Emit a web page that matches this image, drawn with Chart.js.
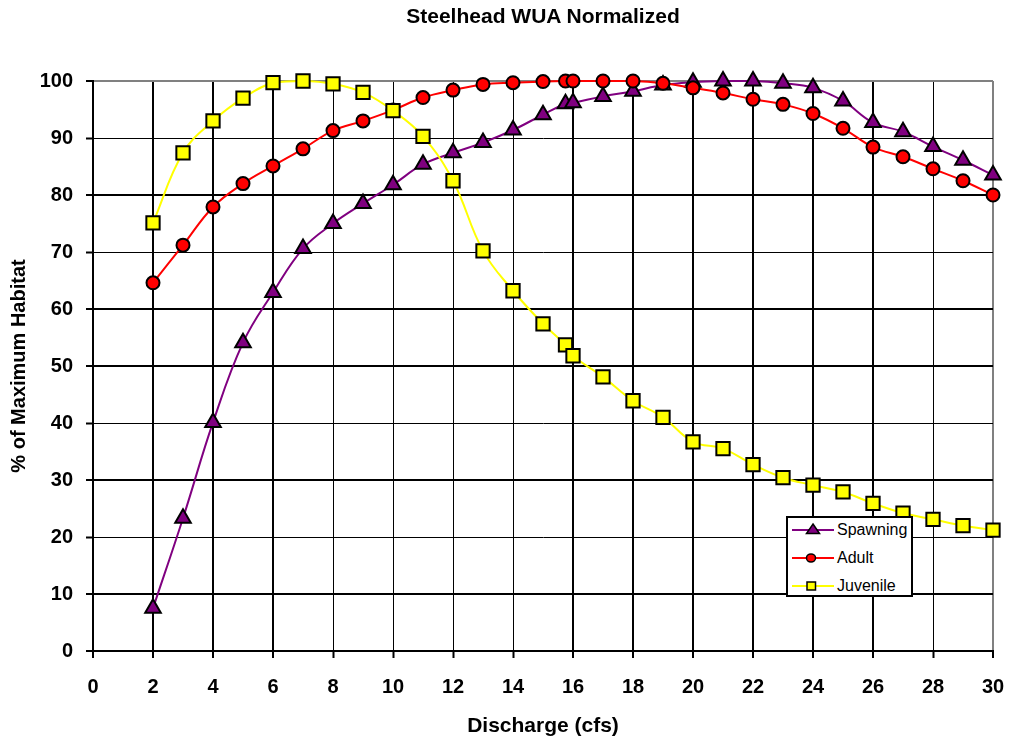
<!DOCTYPE html>
<html>
<head>
<meta charset="utf-8">
<title>Steelhead WUA Normalized</title>
<script src="https://cdn.jsdelivr.net/npm/chart.js@4.4.1/dist/chart.umd.min.js"></script>
<style>
  html, body { margin: 0; padding: 0; background: #fff; }
  #wrap { position: relative; width: 1010px; height: 742px; font-family: 'Liberation Sans', Arial, sans-serif; }
  #chart { position: absolute; left: 0; top: 0; }
  #title { position: absolute; left: 93px; width: 900px; top: 5px; line-height: 21px; text-align: center;
           font-weight: bold; font-size: 21px; color: #000; }
  #legend { position: absolute; left: 786px; top: 516px; width: 127px; height: 81px; box-sizing: border-box;
            border: 2px solid #000; background: #fff; }
  #legend .item { position: absolute; left: 0; height: 20px; width: 124px; }
  #legend svg { position: absolute; left: 0; top: 0; }
  #legend span { position: absolute; left: 49px; top: 0; line-height: 20px; font-size: 16px; color: #000; }
</style>
</head>
<body>
<div id="wrap">
  <canvas id="chart" width="1010" height="742"></canvas>
  <div id="title">Steelhead WUA Normalized</div>
  <div id="legend">
    <div class="item" style="top:2px">
      <svg width="48" height="20"><line x1="4" y1="10" x2="46" y2="10" stroke="#800080" stroke-width="2"/>
        <polygon points="25,4 31.5,13.5 18.5,13.5" fill="#800080" stroke="#000" stroke-width="1.5"/></svg>
      <span>Spawning</span>
    </div>
    <div class="item" style="top:30px">
      <svg width="48" height="20"><line x1="4" y1="10" x2="46" y2="10" stroke="#ff0000" stroke-width="2"/>
        <ellipse cx="23" cy="10" rx="4.5" ry="4" fill="#ff0000" stroke="#000" stroke-width="1.5"/></svg>
      <span>Adult</span>
    </div>
    <div class="item" style="top:58px">
      <svg width="48" height="20"><line x1="4" y1="10" x2="46" y2="10" stroke="#ffff00" stroke-width="2"/>
        <rect x="19" y="6" width="8.5" height="8" fill="#ffff00" stroke="#000" stroke-width="1.5"/></svg>
      <span>Juvenile</span>
    </div>
  </div>
</div>
<script>
// Discharge (cfs) at which habitat was evaluated
const discharge = [2, 3, 4, 5, 6, 7, 8, 9, 10, 11, 12, 13, 14, 15, 15.75,
                   16, 17, 18, 19, 20, 21, 22, 23, 24, 25, 26, 27, 28, 29, 30];

// Normalized weighted usable area, % of maximum habitat
const spawning = [7.5, 23.3, 40.1, 54.1, 62.9, 70.6, 75.0, 78.5, 81.8, 85.4, 87.4, 89.2, 91.4, 94.1, 96.0,
                  96.2, 97.3, 98.2, 99.3, 99.8, 100, 100, 99.6, 98.8, 96.5, 92.7, 91.1, 88.5, 86.1, 83.5];
const adult = [64.6, 71.2, 77.9, 82.0, 85.1, 88.1, 91.3, 93.0, 94.9, 97.1, 98.4, 99.4, 99.7, 99.9, 100,
               100, 100, 100, 99.6, 98.8, 97.9, 96.8, 95.9, 94.3, 91.7, 88.4, 86.7, 84.6, 82.5, 80.0];
const juvenile = [75.1, 87.4, 93.0, 97.0, 99.7, 100, 99.5, 98.0, 94.8, 90.3, 82.5, 70.2, 63.2, 57.4, 53.7,
                  51.8, 48.1, 43.9, 41.0, 36.7, 35.5, 32.7, 30.4, 29.1, 27.9, 25.9, 24.2, 23.1, 22.0, 21.2];

// Axis ranges and tick spacing
const xMin = 0, xMax = 30, xStep = 2;
const yMin = 0, yMax = 100, yStep = 10;

const FONT = "'Liberation Sans', Arial, sans-serif";
const pts = ys => discharge.map((x, i) => ({ x: x, y: ys[i] }));

// grid lines that render one pixel wide; the rest are two
const thinX = [8, 10, 12, 14, 28];
const thinY = [20, 40, 70, 90];

function series(label, values, color, style, radius, order) {
  return {
    label: label,
    data: pts(values),
    borderColor: color,
    backgroundColor: color,
    borderWidth: 2,
    tension: 0.4,
    pointStyle: style,
    pointRadius: radius,
    pointBackgroundColor: color,
    pointBorderColor: '#000',
    pointBorderWidth: 2,
    clip: false,
    order: order
  };
}

new Chart(document.getElementById('chart'), {
  type: 'line',
  data: {
    datasets: [
      series('Spawning', spawning, '#800080', 'triangle', 9, 3),
      series('Adult', adult, '#ff0000', 'circle', 6.5, 2),
      series('Juvenile', juvenile, '#ffff00', 'rect', 9.4, 1)
    ]
  },
  options: {
    responsive: false,
    animation: false,
    devicePixelRatio: 1,
    layout: { padding: { top: 81, right: 17, left: 0, bottom: 0 } },
    plugins: { legend: { display: false }, tooltip: { enabled: false }, title: { display: false } },
    scales: {
      x: {
        type: 'linear',
        position: 'bottom',
        min: xMin, max: xMax,
        afterFit: s => { s.height = 91; s.paddingLeft = 0; s.paddingRight = 0; },
        ticks: { stepSize: xStep, color: '#000', padding: 17, maxRotation: 0,
                 font: { family: FONT, size: 20, weight: 'bold' } },
        grid: {
          color: c => (c.tick && c.tick.value === xMax) ? '#808080' : '#000',
          lineWidth: c => (c.tick && thinX.includes(c.tick.value)) ? 1 : 2,
          tickColor: '#000', tickWidth: 2, tickLength: 7, drawTicks: true
        },
        border: { display: true, color: '#000', width: 2 },
        title: { display: true, text: 'Discharge (cfs)', color: '#000', padding: { top: 0, bottom: 3 },
                 font: { family: FONT, size: 21, weight: 'bold' } }
      },
      y: {
        min: yMin, max: yMax,
        afterFit: s => { s.width = 93; s.paddingTop = 0; s.paddingBottom = 0; },
        ticks: { stepSize: yStep, color: '#000', padding: 13,
                 font: { family: FONT, size: 20, weight: 'bold' } },
        grid: {
          color: c => (c.tick && c.tick.value === yMax) ? '#808080' : '#000',
          lineWidth: c => (c.tick && thinY.includes(c.tick.value)) ? 1 : 2,
          tickColor: '#000', tickWidth: 2, tickLength: 7, drawTicks: true
        },
        border: { display: true, color: '#000', width: 2 },
        title: { display: true, text: '% of Maximum Habitat', color: '#000', padding: { top: 7, bottom: 0 },
                 font: { family: FONT, size: 20, weight: 'bold' } }
      }
    }
  }
});
</script>
</body>
</html>
